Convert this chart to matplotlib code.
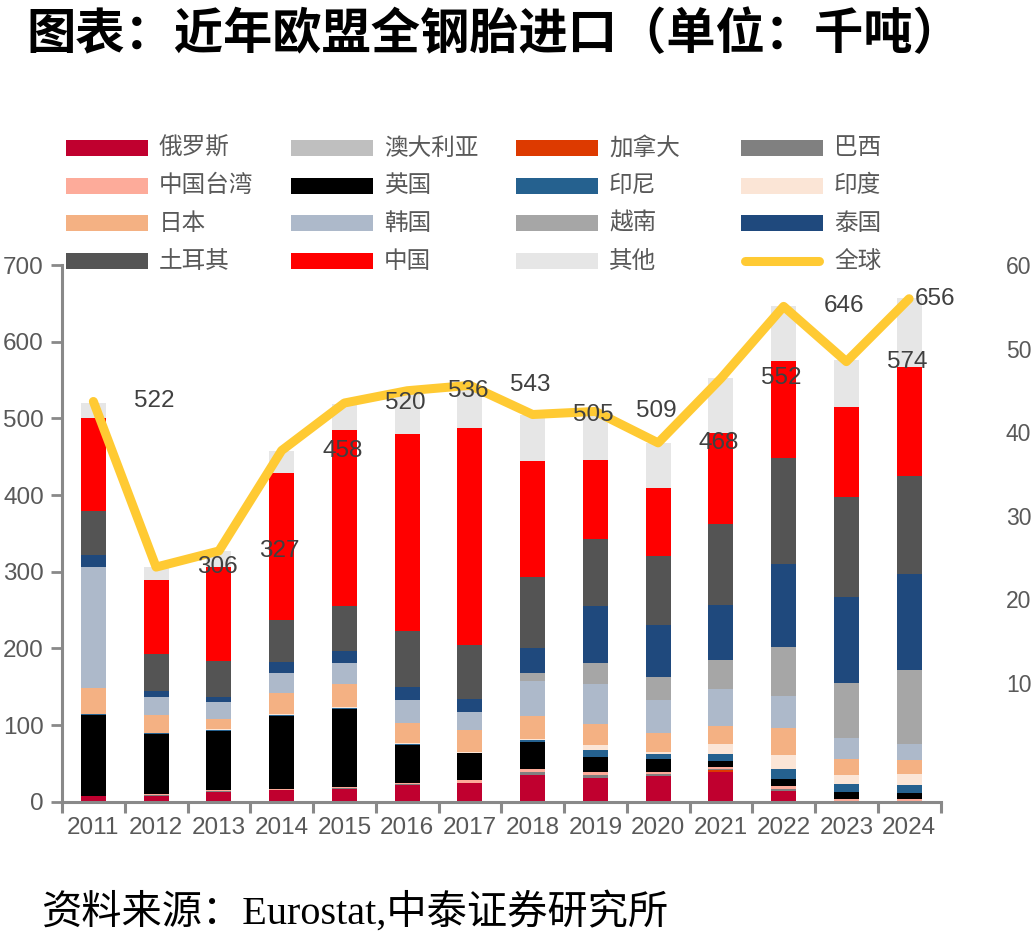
import matplotlib
matplotlib.use("Agg")
import matplotlib.pyplot as plt
import numpy as np
from matplotlib.patches import Rectangle
from matplotlib.lines import Line2D

plt.rcParams['font.family'] = ['Liberation Sans', 'Noto Sans CJK SC', 'DejaVu Sans']

years = ['2011', '2012', '2013', '2014', '2015', '2016', '2017',
         '2018', '2019', '2020', '2021', '2022', '2023', '2024']

russia    = [7, 8, 13, 15, 17, 22, 24, 35, 31, 33, 39, 14, 1, 1]
australia = [0, 0, 0, 0, 0, 0, 0, 0, 0, 0, 0, 0, 0, 0]
canada    = [0, 0, 0, 0, 0, 0, 0, 0, 0, 0, 2.5, 0.5, 0, 0]
brazil    = [0, 0.5, 1, 0.5, 1, 1, 1, 4, 4, 3, 1, 2.5, 0.5, 0]
taiwan    = [1, 1.5, 1.5, 1.5, 1.5, 2, 3, 3, 3.5, 3, 3, 3, 2.5, 2]
uk        = [105, 78, 77, 95, 102, 49, 35, 36, 20, 17, 7, 9, 8.5, 8]
indonesia = [1, 1, 1, 1, 0.5, 1, 1, 2, 9, 6, 10, 14, 10, 10.5]
india     = [0.5, 0.5, 1, 1, 2, 1, 1, 2, 6, 3, 12.5, 18.5, 12, 14]
japan     = [34, 23, 13, 28, 30, 27, 28, 30, 28, 24, 24, 34, 21, 19.5]
korea     = [158, 23.5, 22, 26, 27, 30, 24, 46, 52, 43, 48, 43, 27, 20]
vietnam   = [0, 0, 0, 0, 0, 0, 0, 10, 27, 31, 37.5, 63, 72, 96.5]
thailand  = [15, 8, 7, 14.5, 15, 17, 17, 33, 74.5, 68, 72, 109, 113, 126]
turkey    = [58, 49, 47, 55, 59, 72, 70, 92, 88, 90, 106, 138, 130, 127]
china     = [121, 96, 122, 191, 230, 258, 284, 152, 103, 88, 119, 126, 117, 142]
others    = [20, 17, 22, 29, 34, 55, 52, 60, 62, 59, 71, 72, 61, 90]
world     = [522, 306, 327, 458, 520, 536, 543, 505, 509, 468, 552, 646, 574, 656]

series_names = ['俄罗斯', '澳大利亚', '加拿大', '巴西', '中国台湾', '英国', '印尼', '印度',
                '日本', '韩国', '越南', '泰国', '土耳其', '中国', '其他']
series_vals = [russia, australia, canada, brazil, taiwan, uk, indonesia, india,
               japan, korea, vietnam, thailand, turkey, china, others]
colors = ['#C0002F', '#BFBFBF', '#DD3A00', '#808080', '#FDAB9A', '#000000', '#25618F', '#FBE5D6',
          '#F4B183', '#ADB9CA', '#A6A6A6', '#1F497D', '#545454', '#FF0000', '#E6E6E6']
line_name = '全球'
line_color = '#FFCA33'
right_ticks = ['10', '20', '30', '40', '50', '60']

W, H = 1033, 947
fig = plt.figure(figsize=(W / 100, H / 100), dpi=100)
ax_left, ax_right, ax_bot, ax_top = 62, 940.5, 801.7, 265
ax = fig.add_axes([ax_left / W, (H - ax_bot) / H, (ax_right - ax_left) / W, (ax_bot - ax_top) / H])

x = np.arange(len(years))
bottom = np.zeros(len(years))
for name, vals, c in zip(series_names, series_vals, colors):
    v = np.array(vals, dtype=float)
    ax.bar(x, v, width=0.4, bottom=bottom, color=c, linewidth=0, zorder=2)
    bottom += v

ax.plot(x, world, color=line_color, lw=6.5, solid_joinstyle='round', solid_capstyle='round', zorder=4)

for i, v in enumerate(world):
    xi = i + 0.97 if i < len(world) - 1 else i + 0.42
    ax.text(xi, v, str(v), ha='center', va='center', fontsize=17.5, color='#404040', zorder=5,
            family='Liberation Sans')

ax.set_xlim(-0.5, len(years) - 0.5)
ax.set_ylim(0, 700)
ax.set_yticks(range(0, 701, 100))
ax.set_xticks(x)
ax.set_xticklabels(years)
ax.set_xticks(np.arange(-0.5, len(years), 1), minor=True)
ax.tick_params(axis='x', which='major', length=0, pad=11, labelsize=17.5, labelcolor='#595959')
ax.tick_params(axis='x', which='minor', length=8, width=2.2, color='#898989', direction='out')
ax.tick_params(axis='y', length=8, width=2, color='#898989', pad=5, labelsize=17.5, labelcolor='#595959')
for s in ['top', 'right']:
    ax.spines[s].set_visible(False)
for s in ['left', 'bottom']:
    ax.spines[s].set_color('#898989')
    ax.spines[s].set_linewidth(2.2)

ax2 = ax.twinx()
ax2.set_ylim(-42, 600)
ax2.set_yticks(range(100, 601, 100))
ax2.set_yticklabels(right_ticks)
ax2.tick_params(axis='y', length=0, pad=47, labelsize=16.5, labelcolor='#595959')
for s in ax2.spines.values():
    s.set_visible(False)

# legend (manual grid, 4 columns)
rows_y = [148, 186, 223, 261]
cols_x = [66, 291, 516, 741]
legend_items = list(zip(series_names, colors)) + [(line_name, None)]
for k, (name, c) in enumerate(legend_items):
    r, col = divmod(k, 4)
    px, py = cols_x[col], rows_y[r]
    if c is not None:
        fig.patches.append(Rectangle((px / W, 1 - (py + 8) / H), 82 / W, 16 / H,
                                     transform=fig.transFigure, facecolor=c, edgecolor='none'))
    else:
        fig.lines.append(Line2D([(px + 4) / W, (px + 78) / W], [1 - py / H, 1 - py / H],
                                transform=fig.transFigure, color=line_color, lw=6.5,
                                solid_capstyle='round'))
    fig.text((px + 93) / W, 1 - py / H, name, ha='left', va='center', fontsize=17,
             color='#595959', family=['Noto Sans CJK SC', 'DejaVu Sans'])

fig.text(26 / W, 1 - 35 / H, '图表：近年欧盟全钢胎进口（单位：千吨）', ha='left', va='center',
         fontsize=35.5, fontweight='bold', color='black', family=['Noto Sans CJK SC', 'DejaVu Sans'])
fig.text(42 / W, 1 - 912 / H, '资料来源：Eurostat,中泰证券研究所', ha='left', va='center',
         fontsize=29, color='black', family=['Liberation Serif', 'Noto Sans CJK SC'])

fig.savefig('out.png', dpi=100)
